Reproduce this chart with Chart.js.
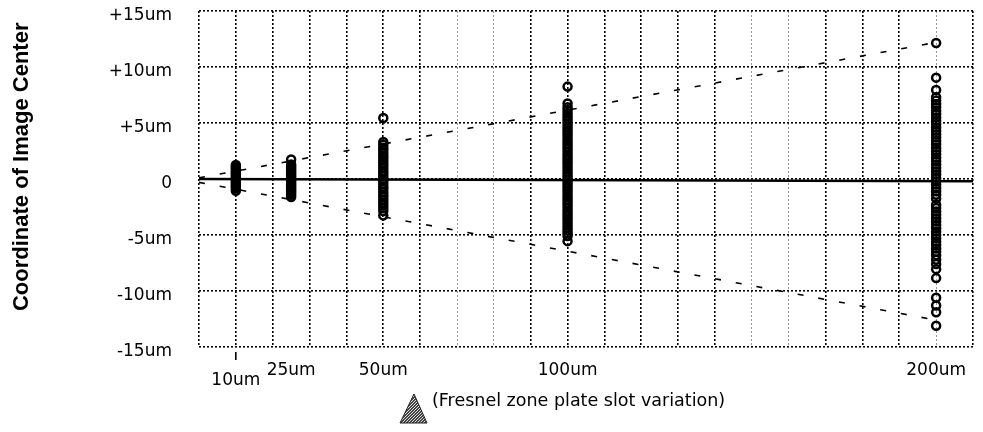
<!DOCTYPE html>
<html>
<head>
<meta charset="utf-8">
<script src="https://cdn.jsdelivr.net/npm/chart.js@4/dist/chart.umd.min.js"></script>
<style>
  html, body { margin: 0; padding: 0; background: #fff; }
  #wrap { width: 983px; height: 432px; }
</style>
</head>
<body>
<div id="wrap"><canvas id="chart-slots" width="983" height="432"></canvas></div>
<script>
// slot widths (x) and the measured image-center offsets (um) at each width
const slotWidths = [10, 25, 50, 100, 200];
const xTickLabels = ['10um', '25um', '50um', '100um', '200um'];
const yTickValues = [-15, -10, -5, 0, 5, 10, 15];
const yTickLabels = ['-15um', '-10um', '-5um', '0', '+5um', '+10um', '+15um'];

const offsets10 = [1.25, 1.1, 0.95, 0.8, 0.65, 0.5, 0.35, 0.2, 0.05, -0.1, -0.25, -0.4, -0.55, -0.7, -0.85, -1.05];
const offsets25 = [1.75, 1.3, 1.15, 1.0, 0.85, 0.7, 0.55, 0.4, 0.25, 0.1, -0.05, -0.2, -0.35, -0.5, -0.65, -0.8, -0.95, -1.1, -1.25, -1.4, -1.6];
const offsets50 = [5.45, 3.3, 3.05, 2.8, 2.6, 2.35, 2.1, 1.9, 1.65, 1.4, 1.2, 0.95, 0.7, 0.5, 0.25, 0.0, -0.2, -0.45, -0.7, -0.9, -1.15, -1.4, -1.6, -1.85, -2.1, -2.35, -2.6, -2.85, -3.25];
const offsets100 = [8.25, 6.75, 6.4, 6.15, 5.9, 5.65, 5.4, 5.15, 4.9, 4.65, 4.4, 4.15, 3.9, 3.65, 3.4, 3.15, 2.9, 2.65, 2.4, 2.15, 1.9, 1.65, 1.4, 1.15, 0.9, 0.65, 0.4, 0.15, -0.1, -0.35, -0.6, -0.85, -1.1, -1.35, -1.6, -1.85, -2.1, -2.35, -2.6, -2.85, -3.1, -3.35, -3.6, -3.85, -4.1, -4.35, -4.6, -4.85, -5.1, -5.55];
const offsets200 = [12.15, 9.05, 7.95, 7.3, 7.0, 6.7, 6.4, 6.1, 5.8, 5.5, 5.2, 4.9, 4.6, 4.3, 4.0, 3.7, 3.4, 3.1, 2.8, 2.5, 2.2, 1.9, 1.6, 1.3, 1.0, 0.7, 0.4, 0.1, -0.2, -0.5, -0.8, -1.1, -1.4, -1.75, -2.3, -2.6, -2.9, -3.2, -3.5, -3.8, -4.1, -4.4, -4.7, -5.0, -5.3, -5.6, -5.9, -6.2, -6.5, -6.8, -7.2, -7.6, -8.05, -8.85, -10.6, -11.3, -11.9, -13.1];

// envelope (dashed) and the nominal center line
const boundX = [0, 200];
const upperBound = [0.1, 12.2];
const lowerBound = [-0.3, -12.6];
const zeroLineX = [0, 210];
const zeroLineY = [0, -0.2];

// vertical grid lines that print faintly in the original
const faintGridX = [70, 80, 150, 160, 200];

const legendText = '(Fresnel zone plate slot variation)';

const FONT = '"DejaVu Sans", Verdana, sans-serif';
const TITLE_FONT = '"Liberation Sans", Arial, sans-serif';
Chart.defaults.font.family = FONT;
Chart.defaults.color = '#000';

const allOffsets = [offsets10, offsets25, offsets50, offsets100, offsets200];
const points = slotWidths.flatMap((w, i) => allOffsets[i].map(y => ({x: w, y})));
const pairs = (xs, ys) => xs.map((x, i) => ({x, y: ys[i]}));

// hatched triangle + caption under the plot
const slotLegend = {
    id: 'slotLegend',
    afterDraw(chart) {
        const ctx = chart.ctx;
        const tile = document.createElement('canvas');
        tile.width = 3; tile.height = 3;
        const t = tile.getContext('2d');
        t.fillStyle = '#444';
        t.fillRect(0, 0, 3, 3);
        t.fillStyle = '#ddd';
        t.fillRect(0, 2, 1, 1);
        t.fillRect(1, 1, 1, 1);
        t.fillRect(2, 0, 1, 1);
        ctx.save();
        ctx.fillStyle = ctx.createPattern(tile, 'repeat');
        ctx.beginPath();
        ctx.moveTo(414, 394);
        ctx.lineTo(427, 423);
        ctx.lineTo(400, 423);
        ctx.closePath();
        ctx.fill();
        ctx.strokeStyle = '#222';
        ctx.lineWidth = 1;
        ctx.stroke();
        ctx.fillStyle = '#000';
        ctx.font = '17.5px ' + FONT;
        ctx.textBaseline = 'middle';
        ctx.textAlign = 'left';
        ctx.fillText(legendText, 432, 401);
        ctx.restore();
    }
};

const chart = new Chart(document.getElementById('chart-slots'), {
    type: 'scatter',
    data: {
        datasets: [
            {
                data: points,
                pointStyle: 'circle',
                pointRadius: 4,
                pointBorderWidth: 2.5,
                borderColor: '#000',
                backgroundColor: 'rgba(0,0,0,0)'
            },
            {
                type: 'line',
                data: pairs(boundX, upperBound),
                borderColor: '#000',
                borderWidth: 1.6,
                borderDash: [6, 15],
                pointRadius: 0,
                fill: false
            },
            {
                type: 'line',
                data: pairs(boundX, lowerBound),
                borderColor: '#000',
                borderWidth: 1.6,
                borderDash: [6, 15],
                pointRadius: 0,
                fill: false
            },
            {
                type: 'line',
                data: pairs(zeroLineX, zeroLineY),
                borderColor: '#000',
                borderWidth: 2.5,
                pointRadius: 0,
                fill: false
            }
        ]
    },
    options: {
        responsive: false,
        devicePixelRatio: 1,
        animation: false,
        layout: { padding: { top: 11, right: 10, left: 5, bottom: 0 } },
        plugins: {
            legend: { display: false },
            tooltip: { enabled: false }
        },
        scales: {
            x: {
                type: 'linear',
                min: 0,
                max: 210,
                afterBuildTicks(scale) {
                    const ticks = [];
                    for (let v = 0; v <= 210; v += 5) ticks.push({value: v});
                    scale.ticks = ticks;
                },
                afterFit(scale) {
                    scale.height = 85;
                    scale.paddingLeft = 0;
                    scale.paddingRight = 0;
                },
                border: { display: false, dash: [2, 2] },
                grid: {
                    color(ctx) {
                        const v = ctx.tick ? ctx.tick.value : 0;
                        if (v % 10 !== 0) return 'rgba(0,0,0,0)';
                        if (faintGridX.includes(v)) return '#999';
                        return '#000';
                    },
                    lineWidth(ctx) {
                        const v = ctx.tick ? ctx.tick.value : 0;
                        return faintGridX.includes(v) ? 1 : 1.6;
                    },
                    tickColor(ctx) {
                        return ctx.tick && ctx.tick.value === 10 ? '#000' : 'rgba(0,0,0,0)';
                    },
                    tickWidth: 1.6,
                    tickLength: 13,
                    tickBorderDash: [0, 5, 8, 50]
                },
                ticks: {
                    autoSkip: false,
                    maxRotation: 0,
                    padding: 6,
                    font: { size: 17, lineHeight: 0.59 },
                    callback(value) {
                        const i = slotWidths.indexOf(value);
                        if (i < 0) return '';
                        return i === 0 ? ['', xTickLabels[i]] : xTickLabels[i];
                    }
                }
            },
            y: {
                min: -15,
                max: 15,
                afterBuildTicks(scale) {
                    scale.ticks = yTickValues.map(v => ({value: v}));
                },
                afterFit(scale) {
                    scale.width = 194;
                    scale.paddingTop = 0;
                    scale.paddingBottom = 0;
                },
                border: { display: false, dash: [2, 2] },
                grid: {
                    color: '#000',
                    lineWidth: 1.6,
                    drawTicks: false
                },
                ticks: {
                    padding: 27,
                    labelOffset: 5,
                    font: { size: 17 },
                    callback(value) {
                        const i = yTickValues.indexOf(value);
                        return i < 0 ? '' : yTickLabels[i];
                    }
                },
                title: {
                    display: true,
                    text: '    Coordinate of Image Center',
                    font: { family: TITLE_FONT, size: 22, weight: 'bold' },
                    padding: { top: 4, bottom: 4 }
                }
            }
        }
    },
    plugins: [slotLegend]
});
</script>
</body>
</html>
